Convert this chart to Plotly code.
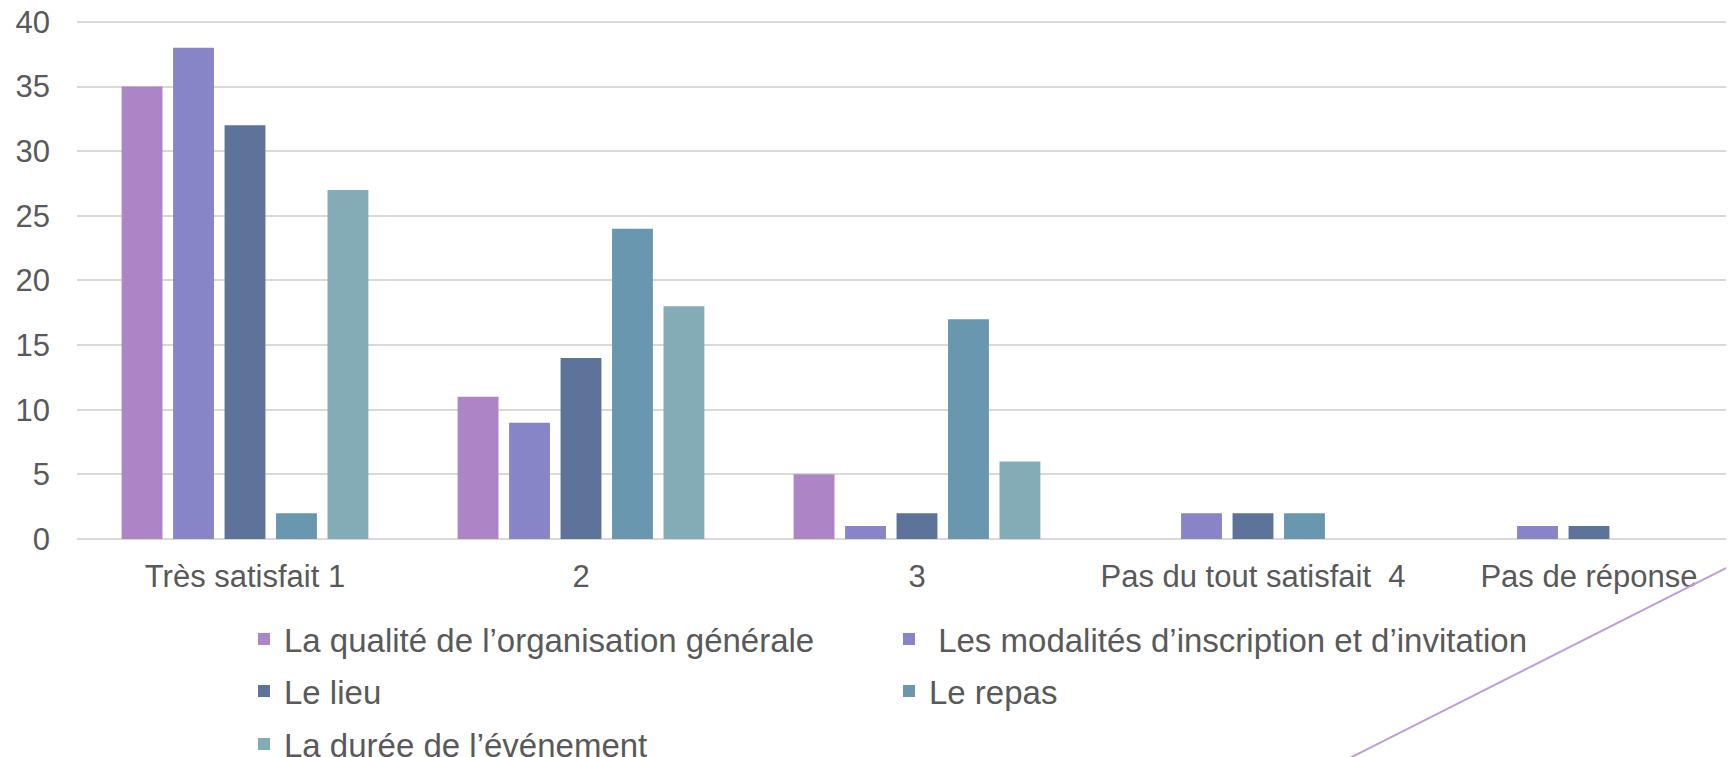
import plotly.graph_objects as go

categories = ["Très satisfait 1", "2", "3", "Pas du tout satisfait  4", "Pas de réponse"]
series_names = [
    "La qualité de l’organisation générale",
    "\u00a0Les modalités d’inscription et d’invitation",
    "Le lieu",
    "Le repas",
    "La durée de l’événement",
]
qualite = [35, 11, 5, 0, 0]
modalites = [38, 9, 1, 2, 1]
lieu = [32, 14, 2, 2, 1]
repas = [2, 24, 17, 2, 0]
duree = [27, 18, 6, 0, 0]
colors = ["#AD84C6", "#8784C7", "#5D739A", "#6997AF", "#84ACB6"]
y_ticks = [0, 5, 10, 15, 20, 25, 30, 35, 40]
legend_rows = ["legend", "legend", "legend2", "legend2", "legend3"]

W, H = 1734, 757
OFF = 8  # page body margin
Y_TOP = 40.3
px_per_unit = (539 - 22) / 40.0
ML = 77 - OFF
MB = H - (539 - OFF)
MT = (22 - OFF) - (Y_TOP - 40) * px_per_unit
FONT = "Liberation Sans, Arial, sans-serif"
TXT = "#595959"
FS = 31
LFS = 33

plot_w = W - ML
plot_h = H - MT - MB
cat_px = 336.0

def scr_to_paper(sx, sy):
    fx, fy = sx - OFF, sy - OFF
    return (fx - ML) / plot_w, (H - MB - fy) / plot_h

fig = go.Figure()
for name, vals, col, lg in zip(series_names, [qualite, modalites, lieu, repas, duree], colors, legend_rows):
    fig.add_trace(go.Bar(
        name=name, x=list(range(len(categories))), y=vals,
        marker=dict(color=col, line=dict(width=0)), legend=lg,
    ))

def leg(row_center_screen_y):
    lx, ly = scr_to_paper(258 - 14, row_center_screen_y - 29)
    return dict(
        orientation="h", x=lx, xanchor="left", y=ly, yanchor="top",
        entrywidth=600, entrywidthmode="pixels",
        font=dict(family=FONT, size=LFS, color=TXT),
        bgcolor="rgba(0,0,0,0)", itemclick=False, itemdoubleclick=False,
    )

fig.update_layout(
    width=W, height=H,
    margin=dict(l=ML, r=0, t=MT, b=MB, autoexpand=False),
    paper_bgcolor="white", plot_bgcolor="white",
    barmode="group", bargap=0.234, bargroupgap=0.206,
    font=dict(family=FONT, size=FS, color=TXT),
    xaxis=dict(
        range=[-0.5, -0.5 + plot_w / cat_px],
        tickmode="array", tickvals=list(range(len(categories))), ticktext=categories,
        showgrid=False, zeroline=False, showline=False,
        ticks="", ticklabelstandoff=16,
        tickfont=dict(family=FONT, size=FS, color=TXT),
    ),
    yaxis=dict(
        range=[0, Y_TOP], tickmode="array", tickvals=y_ticks,
        showgrid=True, gridcolor="#D9D9D9", gridwidth=2,
        zeroline=True, zerolinecolor="#D9D9D9", zerolinewidth=2,
        showline=False, ticks="", ticklabelstandoff=26,
        ticklabeloverflow="allow",
        tickfont=dict(family=FONT, size=FS, color=TXT),
    ),
    legend=leg(640),
    legend2=leg(692),
    legend3=leg(745),
)

# decorative diagonal line
x0, y0 = scr_to_paper(1320, 773)
x1, y1 = scr_to_paper(1760, 551)
fig.add_shape(type="line", xref="paper", yref="paper", x0=x0, y0=y0, x1=x1, y1=y1,
              line=dict(color="#BF9DDE", width=2), layer="above")

fig.write_html("out.html")
